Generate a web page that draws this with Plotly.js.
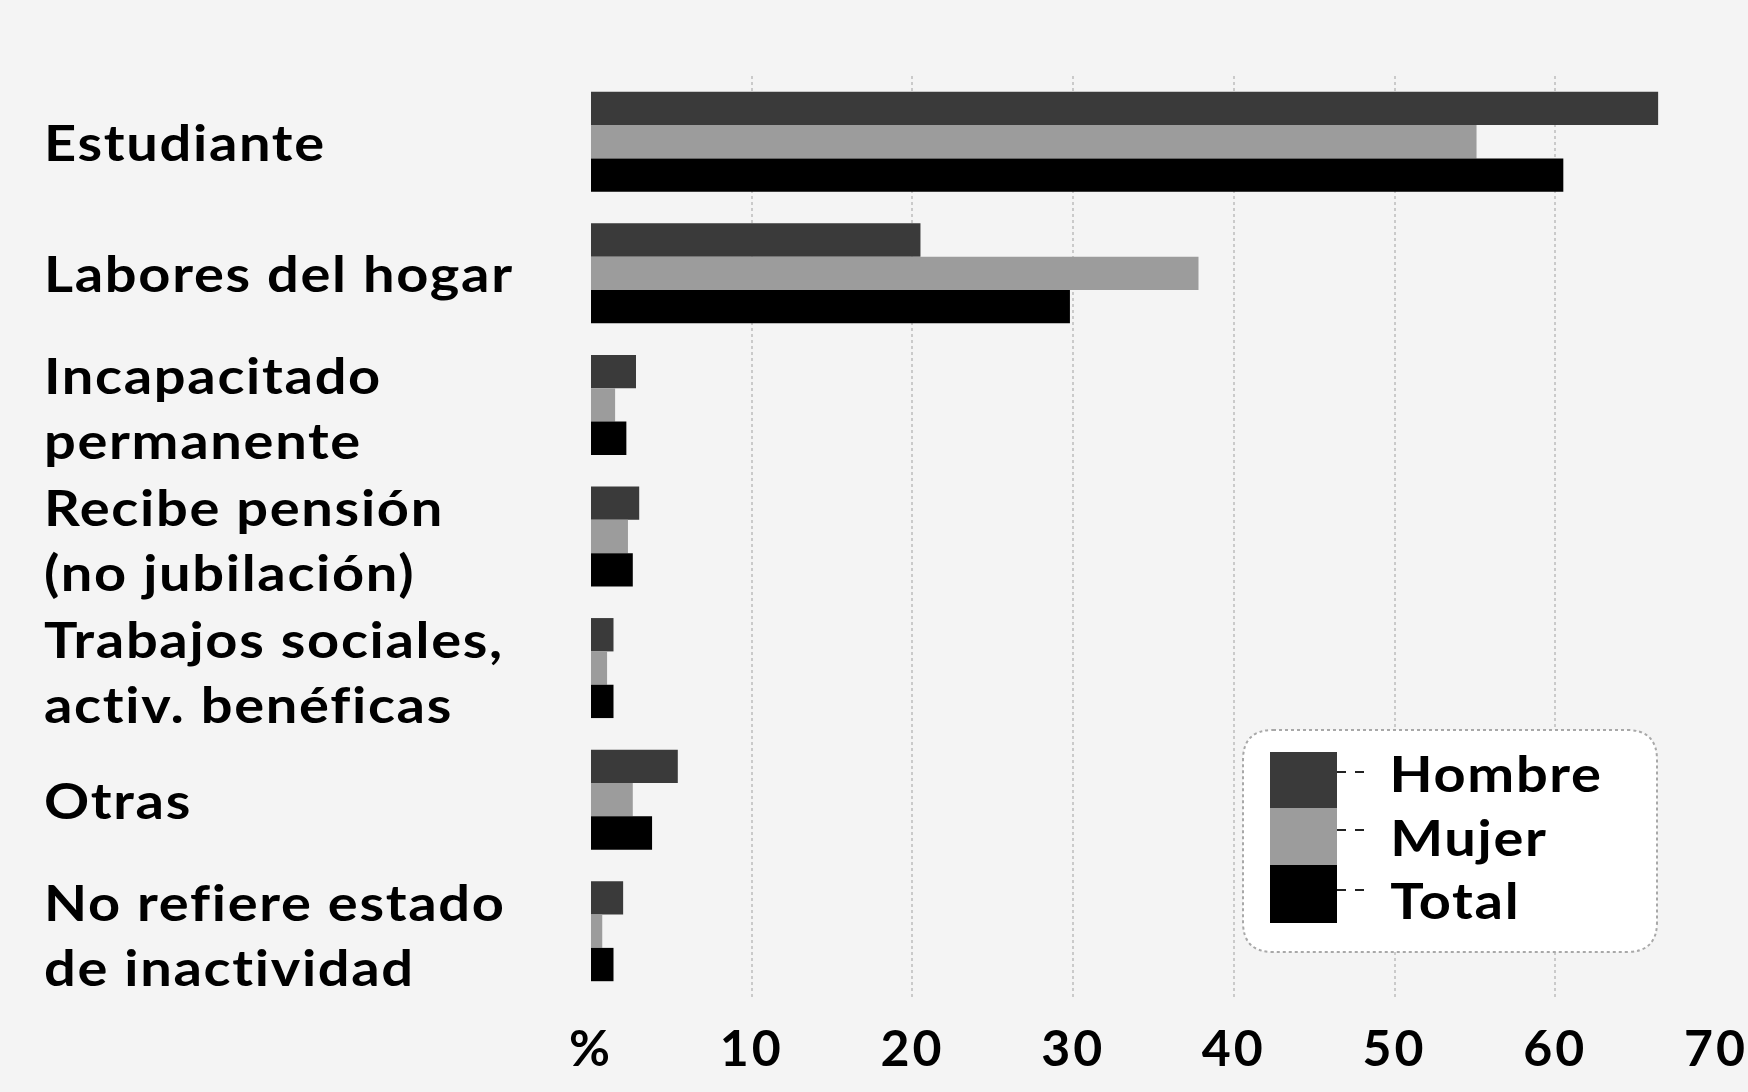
<!DOCTYPE html>
<html>
<head>
<meta charset="utf-8">
<script src="https://cdn.plot.ly/plotly-3.0.1.min.js"></script>
<style>
  html, body { margin: 0; padding: 0; background: #f4f4f4; }
  #chart { width: 1748px; height: 1092px; }
  #chart .xtick text { letter-spacing: 3px; }
  #chart text.annotation-text {
    letter-spacing: 1.5px;
    transform-box: fill-box;
    transform-origin: left center;
    transform: scaleX(1.12);
  }
</style>
</head>
<body>
<div id="chart"></div>
<script>
// ---- data ----
const categories = [
  'Estudiante',
  'Labores del hogar',
  'Incapacitado permanente',
  'Recibe pensión (no jubilación)',
  'Trabajos sociales, activ. benéficas',
  'Otras',
  'No refiere estado de inactividad'
];
const labelLines = [
  ['Estudiante'],
  ['Labores del hogar'],
  ['Incapacitado', 'permanente'],
  ['Recibe pensión', '(no jubilación)'],
  ['Trabajos sociales,', 'activ. benéficas'],
  ['Otras'],
  ['No refiere estado', 'de inactividad']
];
const seriesNames = ['Hombre', 'Mujer', 'Total'];
const hombre = [66.4, 20.5, 2.8, 3.0, 1.4, 5.4, 2.0];
const mujer  = [55.1, 37.8, 1.5, 2.3, 1.0, 2.6, 0.7];
const total  = [60.5, 29.8, 2.2, 2.6, 1.4, 3.8, 1.4];
const tickValues = [0, 10, 20, 30, 40, 50, 60, 70];
const tickLabels = ['%', '10', '20', '30', '40', '50', '60', '70'];

// ---- style ----
const colors = ['#3a3a3a', '#9c9c9c', '#000000'];
const FONT = 'Lato, "Open Sans", sans-serif';
const W = 1748, H = 1092;
const M = { l: 591, r: 32, t: 76, b: 95 };
const PW = W - M.l - M.r, PH = H - M.t - M.b;
const px = x => (x - M.l) / PW;          // page px -> paper x
const py = y => (H - M.b - y) / PH;      // page px -> paper y

const seriesValues = [hombre, mujer, total];
const traces = seriesValues.map((vals, i) => ({
  type: 'bar',
  orientation: 'h',
  name: seriesNames[i],
  y: categories,
  x: vals,
  marker: { color: colors[i], line: { width: 0 } },
  hoverinfo: 'skip',
  showlegend: false
}));

// category labels, left aligned
const annotations = [];
labelLines.forEach((lines, i) => {
  annotations.push({
    xref: 'paper', yref: 'y', x: px(42), y: categories[i],
    xanchor: 'left', yanchor: 'middle', align: 'left',
    yshift: lines.length === 1 ? 0 : -3,
    showarrow: false, text: lines.join('<br>'),
    font: { family: FONT, size: 50, color: '#000', weight: 700 }
  });
});

// custom legend (stacked swatch with leader lines)
const shapes = [];
const bx0 = 1243, bx1 = 1657, by0 = 730, by1 = 952, r = 30;
const rx = r / PW, ry = r / PH;
const X0 = px(bx0), X1 = px(bx1), Y0 = py(by0), Y1 = py(by1);
shapes.push({
  type: 'path', xref: 'paper', yref: 'paper',
  path: `M ${X0 + rx} ${Y0} L ${X1 - rx} ${Y0} Q ${X1} ${Y0} ${X1} ${Y0 - ry} ` +
        `L ${X1} ${Y1 + ry} Q ${X1} ${Y1} ${X1 - rx} ${Y1} ` +
        `L ${X0 + rx} ${Y1} Q ${X0} ${Y1} ${X0} ${Y1 + ry} ` +
        `L ${X0} ${Y0 - ry} Q ${X0} ${Y0} ${X0 + rx} ${Y0} Z`,
  fillcolor: '#ffffff', line: { color: '#a8a8a8', width: 2, dash: 'dot' }, layer: 'above'
});
const swTop = [752, 808, 865], swBot = [808, 865, 923];
const leadY = [772, 830, 890], textY = [773, 837, 900];
seriesNames.forEach((n, i) => {
  shapes.push({
    type: 'rect', xref: 'paper', yref: 'paper',
    x0: px(1270), x1: px(1337), y0: py(swBot[i]), y1: py(swTop[i]),
    fillcolor: colors[i], line: { width: 0 }, layer: 'above'
  });
  shapes.push({
    type: 'line', xref: 'paper', yref: 'paper',
    x0: px(1337), x1: px(1368), y0: py(leadY[i]), y1: py(leadY[i]),
    line: { color: '#222', width: 2, dash: 'dash' }, layer: 'above'
  });
  annotations.push({
    xref: 'paper', yref: 'paper', x: px(1392), y: py(textY[i]),
    xanchor: 'left', yanchor: 'middle', showarrow: false, text: n,
    font: { family: FONT, size: 50, color: '#000', weight: 700 }
  });
});

const layout = {
  width: W, height: H,
  margin: M,
  paper_bgcolor: '#f4f4f4',
  plot_bgcolor: '#f4f4f4',
  barmode: 'group',
  bargap: 0.24,
  bargroupgap: 0,
  showlegend: false,
  xaxis: {
    range: [0, 70],
    tickmode: 'array', tickvals: tickValues, ticktext: tickLabels,
    showgrid: true, gridcolor: '#cacaca', griddash: 'dot', gridwidth: 2,
    zeroline: false, showline: false, ticks: '',
    ticklabelstandoff: 18,
    ticklabeloverflow: 'allow',
    tickfont: { family: FONT, size: 50, color: '#000', weight: 700 },
    fixedrange: true
  },
  yaxis: {
    type: 'category', autorange: 'reversed',
    showticklabels: false, showgrid: false, zeroline: false, showline: false, ticks: '',
    fixedrange: true
  },
  shapes: shapes,
  annotations: annotations,
  hovermode: false
};

Plotly.newPlot('chart', traces, layout, { staticPlot: true, displayModeBar: false });
</script>
</body>
</html>
